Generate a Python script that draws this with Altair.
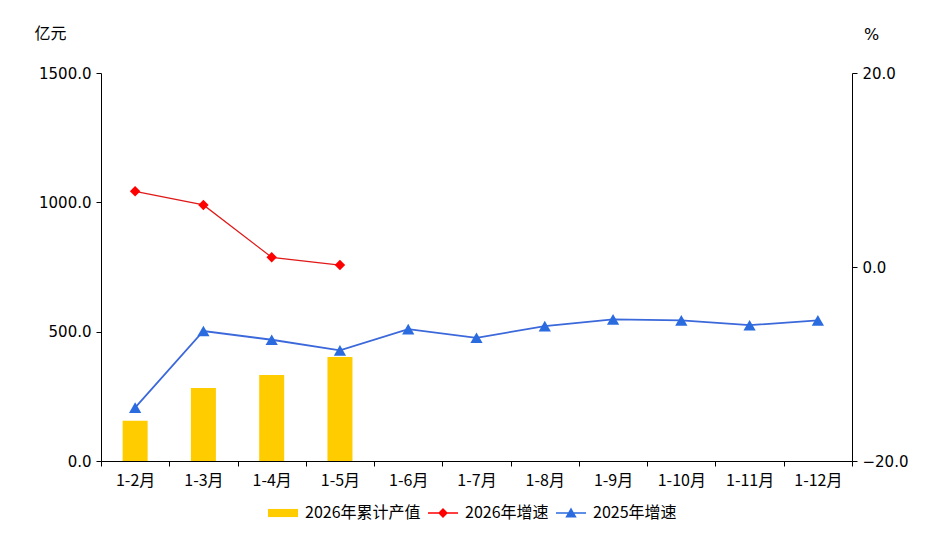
"""
Monthly cumulative output (bars, left axis) with growth rates (lines, right axis)
"""
import pandas as pd
import altair as alt

# Values
months = ["1-2月", "1-3月", "1-4月", "1-5月", "1-6月", "1-7月",
          "1-8月", "1-9月", "1-10月", "1-11月", "1-12月"]
output_2026 = [155.8, 282.0, 332.5, 402.0]
growth_2026 = [7.8, 6.4, 1.0, 0.2]
growth_2025 = [-14.5, -6.6, -7.5, -8.6, -6.4, -7.3, -6.1, -5.4, -5.5, -6.0, -5.5]

series = ["2026年累计产值", "2026年增速", "2025年增速"]
series_colors = ["#FFCC00", "#FF0000", "#2A6BE0"]
# legend glyphs: a flat bar, a line with a diamond, a line with a triangle
legend_glyphs = [
    "M-1,-0.27H1V0.27H-1Z",
    "M-1,-0.045H1V0.045H-1Z M0,-0.33L0.33,0L0,0.33L-0.33,0Z",
    "M-1,-0.045H1V0.045H-1Z M0,-0.36L0.38,0.3H-0.38Z",
]

bars_df = pd.DataFrame({"month": months[:len(output_2026)], "value": output_2026})
g26_df = pd.DataFrame({"month": months[:len(growth_2026)], "rate": growth_2026})
g25_df = pd.DataFrame({"month": months, "rate": growth_2025})
legend_df = pd.DataFrame({"series": series})

x_enc = alt.X(
    "month:N",
    sort=months,
    scale=alt.Scale(domain=months, paddingInner=0, paddingOuter=0),
    axis=alt.Axis(title=None, tickBand="extent", labelAngle=0),
)

left_y = alt.Y(
    "value:Q",
    scale=alt.Scale(domain=[0, 1500], nice=False),
    axis=alt.Axis(values=[0, 500, 1000, 1500], format=".1f", title="亿元",
                  titleAngle=0, titleX=-51, titleY=-40, titleAlign="center",
                  titleBaseline="middle", titleFont="Noto Sans CJK SC"),
)

right_axis = alt.Axis(values=[-20, 0, 20], format=".1f", title="%", orient="right",
                      titleAngle=0, titleX=19, titleY=-39, titleAlign="center",
                      titleBaseline="middle", titleFont="DejaVu Sans")
right_scale = alt.Scale(domain=[-20, 20], nice=False)

bars = alt.Chart(bars_df).mark_bar(size=25, color=series_colors[0]).encode(
    x=x_enc, y=left_y
)

red_line = alt.Chart(g26_df).mark_line(color="#E01818", strokeWidth=1.2).encode(
    x=x_enc, y=alt.Y("rate:Q", scale=right_scale, axis=right_axis)
)
red_pts = alt.Chart(g26_df).mark_point(
    shape="diamond", filled=True, opacity=1, size=110, color=series_colors[1]
).encode(x=x_enc, y=alt.Y("rate:Q", scale=right_scale, axis=right_axis))

blue_line = alt.Chart(g25_df).mark_line(color="#3B68DA", strokeWidth=1.8).encode(
    x=x_enc, y=alt.Y("rate:Q", scale=right_scale, axis=right_axis)
)
blue_pts = alt.Chart(g25_df).mark_point(
    shape="triangle-up", filled=True, opacity=1, size=150, color=series_colors[2]
).encode(x=x_enc, y=alt.Y("rate:Q", scale=right_scale, axis=right_axis))

rates = alt.layer(red_line, red_pts, blue_line, blue_pts)

# legend only layer: no rows survive the filter, the scales keep the entries
legend_layer = alt.Chart(legend_df).transform_filter("false").mark_point(
    filled=True, opacity=1
).encode(
    color=alt.Color("series:N", sort=series, title=None,
                    scale=alt.Scale(domain=series, range=series_colors)),
    shape=alt.Shape("series:N", sort=series, title=None,
                    scale=alt.Scale(domain=series, range=legend_glyphs)),
)

chart = alt.layer(bars, rates, legend_layer).resolve_scale(
    y="independent"
).properties(
    width=751,
    height=388,
    autosize=alt.AutoSizeParams(type="none"),
    padding={"left": 93, "top": 65, "right": 84, "bottom": 70},
).configure_view(
    strokeWidth=0
).configure_axis(
    domainColor="black",
    tickColor="black",
    labelColor="black",
    titleColor="black",
    tickSize=5,
    labelPadding=5,
    grid=False,
    labelFont="DejaVu Sans",
    labelFontSize=15,
    titleFontSize=16,
    titleFontWeight="normal",
).configure_axisX(
    labelFont="Noto Sans CJK SC",
    labelFontSize=16,
    labelPadding=6,
).configure_legend(
    orient="none",
    legendX=167,
    legendY=425,
    direction="horizontal",
    symbolSize=900,
    symbolStrokeWidth=0,
    labelFont="Noto Sans CJK SC",
    labelFontSize=16,
    labelColor="black",
    labelOffset=7,
    columnPadding=7,
    padding=0,
)

chart.save("out.html", embed_options={"renderer": "svg", "actions": False})
